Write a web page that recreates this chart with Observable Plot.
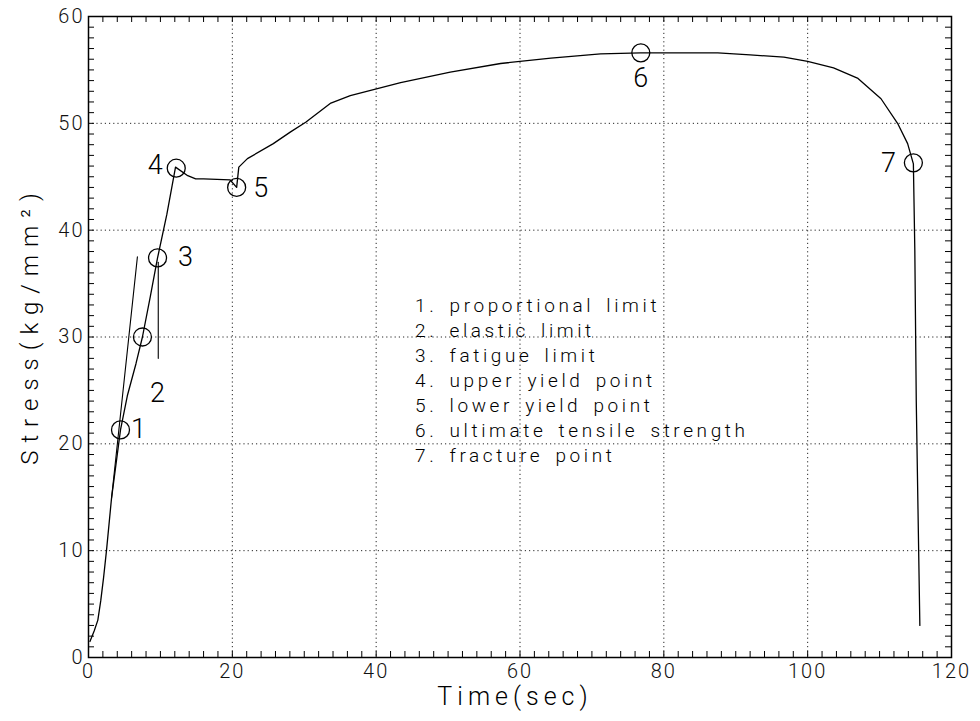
<!DOCTYPE html>
<html><head><meta charset="utf-8">
<script src="https://cdn.jsdelivr.net/npm/d3@7"></script>
<script src="https://cdn.jsdelivr.net/npm/@observablehq/plot@0.6"></script>
<style>
body{margin:0;background:#fff;}
#chart svg{font-family:Roboto, "DejaVu Sans", sans-serif;}
</style>
</head><body><div id="chart"></div>
<script>
// Stress-strain curve (time in sec, stress in kg/mm^2)
const curveTime   = [0.2, 0.8, 1.3, 1.7, 2.1, 2.5, 3.2, 4.45, 5.4, 6.6, 7.5, 8.6, 9.6, 10.9, 12.1, 13.8, 14.9, 16.0, 19.7, 20.6, 20.9, 22.1, 25.7, 28.1, 30.2, 33.7, 36.4, 43.4, 50.3, 57.3, 64.3, 71.2, 76.8, 87.5, 92.0, 96.7, 100.0, 103.6, 107.0, 110.2, 112.5, 113.9, 114.7, 114.9, 115.1, 115.6];
const curveStress = [1.5, 2.5, 3.5, 5.3, 7.5, 10.0, 14.9, 21.3, 24.5, 27.5, 30.0, 33.8, 37.4, 41.5, 45.9, 45.1, 44.8, 44.8, 44.7, 44.0, 45.9, 46.7, 48.1, 49.2, 50.1, 51.9, 52.6, 53.8, 54.8, 55.6, 56.1, 56.5, 56.6, 56.6, 56.4, 56.2, 55.8, 55.2, 54.2, 52.3, 50.0, 48.1, 46.2, 38.1, 24.0, 3.0];

// Marked points
const keyTime   = [4.45, 7.5, 9.6, 12.2, 20.6, 76.8, 114.7];
const keyStress = [21.3, 30.0, 37.4, 45.8, 44.0, 56.6, 46.3];
const keyLabels = ["1", "2", "3", "4", "5", "6", "7"];

// Construction lines
const tangentTime   = [3.2, 6.8];
const tangentStress = [14.9, 37.5];
const verticalTime   = [9.7, 9.7];
const verticalStress = [28.0, 37.0];

const legendLines = [
  "1. proportional limit",
  "2. elastic limit",
  "3. fatigue limit",
  "4. upper yield point",
  "5. lower yield point",
  "6. ultimate tensile strength",
  "7. fracture point"
];

const xTickLabels = [0, 20, 40, 60, 80, 100, 120];
const yTickLabels = [0, 10, 20, 30, 40, 50, 60];
const xGrid = [20, 40, 60, 80, 100];
const yGrid = [10, 20, 30, 40, 50];

// label placement (style, px offsets from circle centre)
const labelOffsets = [[18, -1], [15, 56], [28, -1], [-21, -3], [24, 1], [0, 26], [-25, 0]];

const W = 980, H = 721, mT = 16, mB = 64, mL = 88, mR = 29;
const innerH = H - mT - mB, innerW = W - mL - mR;

const curve = curveTime.map((t, i) => ({t, s: curveStress[i]}));
const keys = keyTime.map((t, i) => ({t, s: keyStress[i], label: keyLabels[i]}));
const tangent = tangentTime.map((t, i) => ({t, s: tangentStress[i]}));
const vertical = verticalTime.map((t, i) => ({t, s: verticalStress[i]}));

const minorX = d3.range(0, 121, 2);
const minorY = d3.range(0, 61, 1);
const tk = 6;

const marks = [
  Plot.gridX(xGrid, {stroke: "#000", strokeOpacity: 0.85, strokeDasharray: "1.2,3"}),
  Plot.gridY(yGrid, {stroke: "#000", strokeOpacity: 0.85, strokeDasharray: "1.2,3"}),
  Plot.tickX(minorX, {x: d => d, insetTop: innerH - tk, stroke: "#000"}),
  Plot.tickX(minorX, {x: d => d, insetBottom: innerH - tk, stroke: "#000"}),
  Plot.tickY(minorY, {y: d => d, insetRight: innerW - tk, stroke: "#000"}),
  Plot.tickY(minorY, {y: d => d, insetLeft: innerW - tk, stroke: "#000"}),
  Plot.frame({stroke: "#000", strokeWidth: 1.5}),
  Plot.axisX(xTickLabels, {label: null, tickSize: 0, tickPadding: 6, fontSize: 20, fill: "#111", fontWeight: 300}),
  Plot.axisY(yTickLabels, {label: null, tickSize: 0, tickPadding: 4, fontSize: 20, fill: "#111", fontWeight: 300}),
  Plot.line(curve, {x: "t", y: "s", stroke: "#000", strokeWidth: 1.3}),
  Plot.line(tangent, {x: "t", y: "s", stroke: "#000", strokeWidth: 1.1}),
  Plot.line(vertical, {x: "t", y: "s", stroke: "#000", strokeWidth: 1.1}),
  Plot.dot(keys, {x: "t", y: "s", r: 9, stroke: "#000", strokeWidth: 1.3, fill: "none"}),
  ...keys.map((k, i) => Plot.text([k], {x: "t", y: "s", text: "label", dx: labelOffsets[i][0], dy: labelOffsets[i][1], fontSize: 27, fontWeight: 300, fill: "#000"})),
  Plot.text([legendLines.join("\n")], {x: () => 45.4, y: () => 26.1, text: d => d, textAnchor: "start", lineAnchor: "middle", lineHeight: 1.316, fontSize: 19, fontWeight: 300, fill: "#000"}),
  Plot.text(["Time(sec)"], {frameAnchor: "bottom", dy: 47, dx: -5, text: d => d, fontSize: 25, fontWeight: 300, fill: "#000"}),
  Plot.text(["Stress(kg/mm²)"], {frameAnchor: "left", textAnchor: "middle", dx: -58, dy: -12, rotate: -90, text: d => d, fontSize: 24, fontWeight: 300, fill: "#000"})
];

const chart = Plot.plot({
  width: W, height: H,
  marginTop: mT, marginBottom: mB, marginLeft: mL, marginRight: mR,
  x: {domain: [0, 120], label: null},
  y: {domain: [0, 60], label: null},
  marks
});
document.getElementById("chart").appendChild(chart);

// letter spacing to mimic the wide plotter font
const textGroups = chart.querySelectorAll('g[aria-label="text"]');
const n = textGroups.length;
const spacing = [[n - 3, "3.6px", "4px"], [n - 2, "5px", "0px"], [n - 1, "8px", "0px"]];
for (const [i, ls, ws] of spacing) {
  d3.select(textGroups[i]).selectAll("text, tspan").style("letter-spacing", ls).style("word-spacing", ws);
}
d3.select(chart).selectAll('g[aria-label="x-axis tick label"] text, g[aria-label="y-axis tick label"] text').style("letter-spacing", "2px");
</script>
</body></html>
